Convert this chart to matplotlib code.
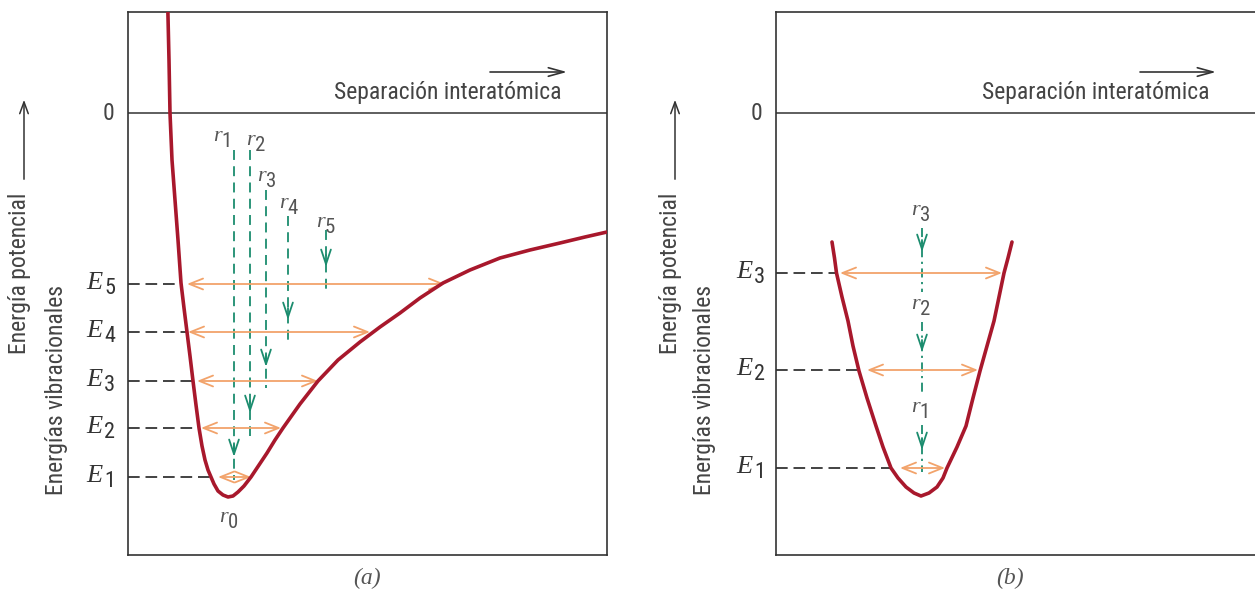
import matplotlib
matplotlib.use('Agg')
import matplotlib.pyplot as plt
from matplotlib import font_manager
from matplotlib.font_manager import FontProperties

# fuentes: busca una sans estrecha si existe
narrow_fp = None
for want in ['Liberation Sans Narrow', 'Roboto Condensed', 'Open Sans Condensed']:
    for f in font_manager.fontManager.ttflist:
        if f.name == want and f.style == 'normal' and f.weight in (400, 'normal', 'regular'):
            narrow_fp = f.fname
            break
    if narrow_fp:
        break
if narrow_fp is None:
    for f in font_manager.fontManager.ttflist:
        if f.name == 'DejaVu Sans' and f.stretch == 'condensed' and f.style == 'normal' \
                and f.weight in (400, 'normal'):
            narrow_fp = f.fname
            break
serif_fp = None
for f in font_manager.fontManager.ttflist:
    if f.name == 'Liberation Serif' and f.style == 'italic' and f.weight in (400, 'normal', 'regular'):
        serif_fp = f.fname
        break


def sans(size):
    if narrow_fp:
        return FontProperties(fname=narrow_fp, size=size)
    return FontProperties(family='Liberation Sans', size=size * 0.9)


def ital(size):
    if serif_fp:
        return FontProperties(fname=serif_fp, size=size)
    return FontProperties(family='serif', style='italic', size=size)


RED = '#a8182c'
ORANGE = '#f2a36b'
GREEN = '#1b8c6e'
INK = '#333333'

# ---- datos (a): pozo asimetrico ----
curve_a_x = [0.398, 0.41, 0.42, 0.44, 0.47, 0.50, 0.53, 0.56, 0.59, 0.62, 0.65, 0.68, 0.71,
             0.74, 0.77, 0.80, 0.83, 0.86, 0.90, 0.95, 1.00, 1.05, 1.10, 1.16, 1.23, 1.31,
             1.39, 1.47, 1.55, 1.72, 1.90, 2.10, 2.32, 2.52, 2.72, 2.92, 3.15, 3.42, 3.72,
             4.02, 4.32, 4.57, 4.79]
curve_a_y = [1.05, 0.53, 0.0, -0.47, -0.87, -1.27, -1.70, -1.95, -2.19, -2.43, -2.68, -2.92,
             -3.15, -3.33, -3.47, -3.57, -3.64, -3.71, -3.78, -3.82, -3.84, -3.83, -3.79,
             -3.73, -3.64, -3.52, -3.40, -3.27, -3.15, -2.91, -2.68, -2.47, -2.29, -2.14,
             -2.00, -1.85, -1.70, -1.57, -1.45, -1.37, -1.30, -1.24, -1.19]
levels_a = ['1', '2', '3', '4', '5']
energy_a = [-3.64, -3.15, -2.68, -2.19, -1.71]
wall_a = [0.83, 0.71, 0.65, 0.59, 0.53]          # donde corta la rama izquierda
arrow_a_left = [0.90, 0.73, 0.69, 0.60, 0.59]
arrow_a_right = [1.23, 1.53, 1.90, 2.42, 3.17]
r_a_x = [1.06, 1.22, 1.38, 1.60, 1.98]
r_a_top = [-0.37, -0.37, -0.77, -1.03, -1.17]
r_a_bottom = [-3.67, -3.23, -2.75, -2.30, -1.79]
r_a_tip = [-3.44, -3.00, -2.54, -2.07, -1.54]
r_a_label = [(0.98, -0.26), (1.31, -0.30), (1.42, -0.66), (1.64, -0.93), (2.01, -1.12)]
r0_label = (1.04, -4.07)

# ---- datos (b): pozo simetrico ----
curve_b_x = [0.56, 0.585, 0.605, 0.66, 0.72, 0.77, 0.83, 0.91, 1.00, 1.07, 1.15, 1.22, 1.30,
             1.38, 1.45, 1.53, 1.61, 1.67, 1.71, 1.81, 1.90, 1.97, 2.04, 2.11, 2.18, 2.23,
             2.28, 2.32, 2.36]
curve_b_y = [-1.29, -1.45, -1.60, -1.84, -2.08, -2.33, -2.58, -2.85, -3.13, -3.34, -3.55,
             -3.65, -3.74, -3.80, -3.83, -3.80, -3.74, -3.65, -3.55, -3.34, -3.13, -2.85,
             -2.58, -2.33, -2.08, -1.84, -1.60, -1.45, -1.29]
levels_b = ['1', '2', '3']
energy_b = [-3.55, -2.57, -1.60]
wall_b = [1.15, 0.83, 0.60]
arrow_b_left = [1.24, 0.91, 0.64]
arrow_b_right = [1.69, 2.02, 2.26]
r_b_x = 1.46
r_b_seg = [(-3.12, -3.59), (-2.09, -2.82), (-1.15, -1.79)]
r_b_tip = [-3.37, -2.39, -1.39]
r_b_label = [-2.97, -1.94, -1.00]

fig = plt.figure(figsize=(12.55, 5.97), dpi=100)
W, H = 1255.0, 597.0


def make_axes(left):
    ax = fig.add_axes([left / W, 42 / H, 479 / W, 543 / H])
    ax.set_xlim(0, 4.79)
    ax.set_ylim(-4.42, 1.01)
    ax.set_xticks([])
    ax.set_yticks([])
    for s in ax.spines.values():
        s.set_color(INK)
        s.set_linewidth(1.2)
    ax.axhline(0, color=INK, lw=1.1)
    return ax


def sub_label(ax, x, y, letter, sub, size=19, subsize=16, gap=-9):
    # letra cursiva serif + subindice sans, alineado a la derecha en x
    ax.annotate(sub, xy=(x, y), xytext=(0, -3), textcoords='offset points',
                ha='right', va='center', fontproperties=sans(subsize),
                color=INK, annotation_clip=False)
    ax.annotate(letter, xy=(x, y), xytext=(gap, 1), textcoords='offset points',
                ha='right', va='center', fontproperties=ital(size),
                color=INK, annotation_clip=False)


def r_label(ax, x, y, sub):
    ax.annotate('r', xy=(x, y), xytext=(-3, 2), textcoords='offset points',
                ha='right', va='center', fontproperties=ital(16),
                color='#555555', annotation_clip=False)
    ax.annotate(sub, xy=(x, y), xytext=(-3, -2), textcoords='offset points',
                ha='left', va='center', fontproperties=sans(15),
                color='#555555', annotation_clip=False)


def orange_arrow(ax, x0, x1, y):
    ax.annotate('', xy=(x1, y), xytext=(x0, y),
                arrowprops=dict(arrowstyle='<->,head_length=0.7,head_width=0.28',
                                color=ORANGE, lw=1.3, mutation_scale=14,
                                shrinkA=0, shrinkB=0))


def green_head(ax, x, tip):
    ax.annotate('', xy=(x, tip), xytext=(x, tip + 0.12),
                arrowprops=dict(arrowstyle='->,head_length=0.75,head_width=0.25',
                                color=GREEN, lw=1.3, mutation_scale=14,
                                shrinkA=0, shrinkB=0))


def separation(ax, x0, x1):
    ax.annotate('', xy=(x1, 0.41), xytext=(x0, 0.41),
                arrowprops=dict(arrowstyle='->,head_length=0.8,head_width=0.22',
                                color=INK, lw=1.2, mutation_scale=14,
                                shrinkA=0, shrinkB=0))
    ax.text(4.33, 0.20, 'Separación interatómica', ha='right', va='center',
            fontproperties=sans(17), color='#444444')


# ---------- panel (a) ----------
ax_a = make_axes(128)
ax_a.plot(curve_a_x, curve_a_y, color=RED, lw=2.6, solid_joinstyle='round',
          solid_capstyle='round', zorder=5)
for e, w, xl, xr, lv in zip(energy_a, wall_a, arrow_a_left, arrow_a_right, levels_a):
    ax_a.plot([0, w], [e, e], color='#222222', lw=1.2, dashes=(7, 3.5))
    orange_arrow(ax_a, xl, xr, e)
    sub_label(ax_a, -0.13, e, 'E', lv)
for x, t, b, tip, (lx, ly), lv in zip(r_a_x, r_a_top, r_a_bottom, r_a_tip, r_a_label, levels_a):
    ax_a.plot([x, x], [t, b], color=GREEN, lw=1.3, dashes=(5.5, 3.5))
    green_head(ax_a, x, tip)
    r_label(ax_a, lx, ly, lv)
r_label(ax_a, r0_label[0], r0_label[1], '0')
ax_a.text(-0.14, 0, '0', ha='right', va='center', fontproperties=sans(17), color='#444444')
separation(ax_a, 3.62, 4.39)

# ---------- panel (b) ----------
ax_b = make_axes(776)
ax_b.spines['right'].set_visible(False)
ax_b.plot(curve_b_x, curve_b_y, color=RED, lw=2.6, solid_joinstyle='round',
          solid_capstyle='round', zorder=5)
for e, w, xl, xr, lv in zip(energy_b, wall_b, arrow_b_left, arrow_b_right, levels_b):
    ax_b.plot([0, w], [e, e], color='#222222', lw=1.2, dashes=(7, 3.5))
    orange_arrow(ax_b, xl, xr, e)
    sub_label(ax_b, -0.11, e, 'E', lv)
for (t, b), tip, ly, lv in zip(r_b_seg, r_b_tip, r_b_label, levels_b):
    ax_b.plot([r_b_x, r_b_x], [t, b], color=GREEN, lw=1.3, dashes=(5, 2.5, 1.2, 2.5))
    green_head(ax_b, r_b_x, tip)
    r_label(ax_b, r_b_x + 0.02, ly, lv)
ax_b.text(-0.14, 0, '0', ha='right', va='center', fontproperties=sans(17), color='#444444')
separation(ax_b, 3.64, 4.40)

# ---------- textos de ejes en coordenadas de figura ----------
for xp, xv in [(20, 57), (671, 705)]:
    fig.text(xp / W, 1 - 273 / H, 'Energía potencial', rotation=90, ha='center', va='center',
             fontproperties=sans(17), color='#444444')
    fig.text(xv / W, 1 - 390 / H, 'Energías vibracionales', rotation=90, ha='center',
             va='center', fontproperties=sans(17), color='#444444')
    fig.add_artist(matplotlib.patches.FancyArrowPatch(
        ((xp + 4) / W, 1 - 182 / H), ((xp + 4) / W, 1 - 97 / H),
        transform=fig.transFigure, arrowstyle='->,head_length=0.6,head_width=0.22',
        mutation_scale=14, color=INK, lw=1.1))

fig.text(367 / W, 1 - 578 / H, '(a)', ha='center', va='center',
         fontproperties=ital(17), color='#555555')
fig.text(1010 / W, 1 - 578 / H, '(b)', ha='center', va='center',
         fontproperties=ital(17), color='#555555')

fig.savefig('out.png', dpi=100)
